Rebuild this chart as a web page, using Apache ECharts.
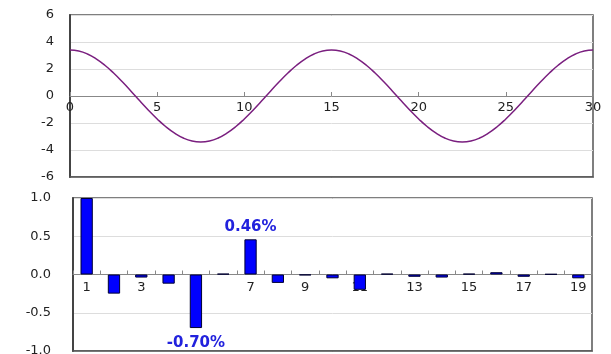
<!DOCTYPE html>
<html>
<head>
<meta charset="utf-8">
<script src="https://cdn.jsdelivr.net/npm/echarts@6/dist/echarts.min.js"></script>
<style>
  html,body{margin:0;padding:0;background:#fff;}
  #chart{width:611px;height:354px;}
</style>
</head>
<body>
<div id="chart"></div>
<script>
// top panel: wave every 0.5
var waveX = [0,0.5,1,1.5,2,2.5,3,3.5,4,4.5,5,5.5,6,6.5,7,7.5,8,8.5,9,9.5,10,10.5,11,11.5,12,12.5,13,13.5,14,14.5,15,
  15.5,16,16.5,17,17.5,18,18.5,19,19.5,20,20.5,21,21.5,22,22.5,23,23.5,24,24.5,25,25.5,26,26.5,27,27.5,28,28.5,29,29.5,30];
var waveY = [3.40,3.33,3.11,2.75,2.28,1.70,1.05,0.36,-0.36,-1.05,-1.70,-2.28,-2.75,-3.11,-3.33,-3.40,
  -3.33,-3.11,-2.75,-2.28,-1.70,-1.05,-0.36,0.36,1.05,1.70,2.28,2.75,3.11,3.33,3.40,
  3.33,3.11,2.75,2.28,1.70,1.05,0.36,-0.36,-1.05,-1.70,-2.28,-2.75,-3.11,-3.33,-3.40,
  -3.33,-3.11,-2.75,-2.28,-1.70,-1.05,-0.36,0.36,1.05,1.70,2.28,2.75,3.11,3.33,3.40];

// bottom panel: bars
var lags = ['1','2','3','4','5','6','7','8','9','10','11','12','13','14','15','16','17','18','19'];
var barVals = [1.0,-0.25,-0.04,-0.12,-0.70,0.01,0.46,-0.11,-0.01,-0.05,-0.20,0.01,-0.03,-0.04,0.01,0.03,-0.03,0.005,-0.05];
var labelled = ['5','7']; // bars that carry a % label

var font = 'DejaVu Sans';
var txt = {color:'#222', fontSize:13, fontFamily:font};

var chart = echarts.init(document.getElementById('chart'));

var barData = barVals.map(function(v,i){
  if(labelled.indexOf(lags[i]) < 0) return v;
  return {
    value:v,
    label:{
      show:true,
      position: v < 0 ? 'bottom' : 'top',
      distance: v < 0 ? 8 : 5,
      formatter: v.toFixed(2) + '%',
      color:'#2222dd', fontSize:15, fontWeight:'bold', fontFamily:font
    }
  };
});

// x axes sit on y = 0: shift them up from the grid bottom
var topH = 162, botH = 153;

// plain line along the bottom edge of a panel
function edge(g){
  return {
    gridIndex:g, type:'value', min:0, max:1, position:'bottom',
    axisLine:{show:true, onZero:false, lineStyle:{color:'#555', width:1.5}},
    axisTick:{show:false}, axisLabel:{show:false}, splitLine:{show:false}
  };
}

chart.setOption({
  animation:false,
  grid:[
    {left:70, right:18, top:15, height:topH, outerBoundsMode:'none', show:true, borderColor:'#555', borderWidth:1.5},
    {left:73, right:19, top:198, height:botH, outerBoundsMode:'none', show:true, borderColor:'#555', borderWidth:1.5}
  ],
  xAxis:[
    {
      gridIndex:0, type:'value', min:0, max:30, interval:5,
      position:'bottom', offset:-topH/2,
      axisLine:{onZero:false, lineStyle:{color:'#888', width:1}},
      axisTick:{show:true, inside:true, length:4, lineStyle:{color:'#888'}},
      axisLabel:Object.assign({margin:5}, txt),
      splitLine:{show:false}
    },
    {
      gridIndex:1, type:'category', data:lags,
      position:'bottom', offset:-botH/2,
      axisLine:{onZero:false, lineStyle:{color:'#888', width:1}},
      axisTick:{show:true, inside:true, length:4, interval:0, lineStyle:{color:'#888'}},
      axisLabel:Object.assign({margin:7, interval:1}, txt),
      splitLine:{show:false}
    },
    edge(0),
    edge(1)
  ],
  yAxis:[
    {
      gridIndex:0, type:'value', min:-6, max:6, interval:2,
      axisLine:{show:true, onZero:false, lineStyle:{color:'#444', width:2}},
      axisTick:{show:false},
      axisLabel:Object.assign({margin:16}, txt),
      splitLine:{show:true, lineStyle:{color:'#ddd', width:1}}
    },
    {
      gridIndex:1, type:'value', min:-1, max:1, interval:0.5,
      axisLine:{show:true, onZero:false, lineStyle:{color:'#444', width:2}},
      axisTick:{show:false},
      axisLabel:Object.assign({margin:22, formatter:function(v){return v.toFixed(1);}}, txt),
      splitLine:{show:true, lineStyle:{color:'#ddd', width:1}}
    }
  ],
  series:[
    {
      type:'line', xAxisIndex:0, yAxisIndex:0,
      data: waveX.map(function(x,i){return [x, waveY[i]];}),
      smooth:true, showSymbol:false,
      lineStyle:{color:'#7a1f7f', width:1.5}
    },
    {
      type:'bar', xAxisIndex:1, yAxisIndex:1,
      data: barData, barWidth:'45%',
      itemStyle:{color:'#0000ff', borderColor:'#000033', borderWidth:1}
    }
  ]
});
</script>
</body>
</html>
